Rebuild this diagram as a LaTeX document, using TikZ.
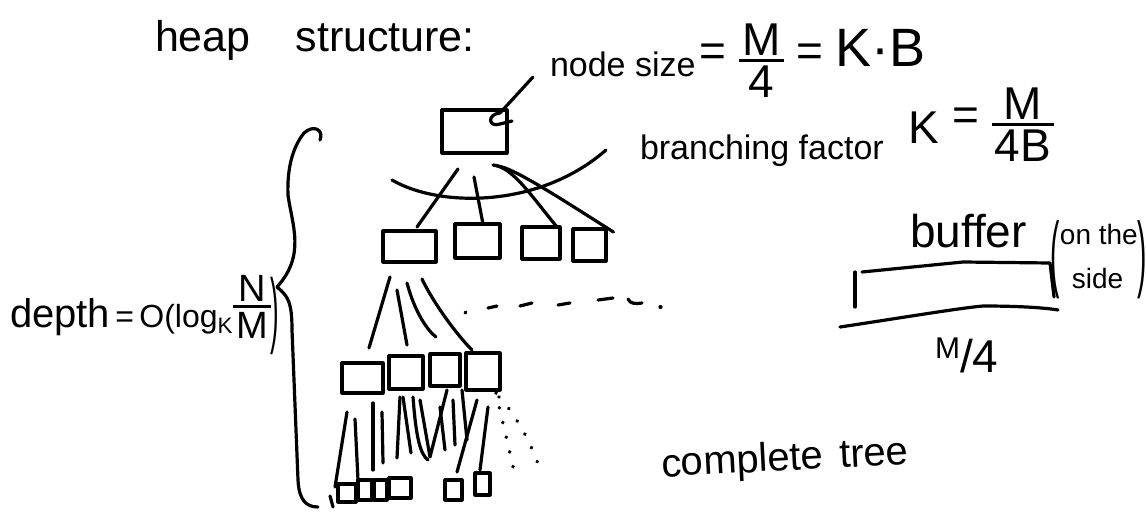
\documentclass[tikz,border=0pt]{standalone}
\usepackage{fontspec}
\usepackage{graphicx}
\setmainfont{Liberation Sans}
\usetikzlibrary{calc}
\newcommand\hfr[2]{$\vcenter{\offinterlineskip\halign{\hfil\kern3pt##\kern3pt\hfil\cr#1\cr\noalign{\kern4pt\hrule height 2.6pt\kern4pt}#2\cr}}$}
\tikzset{
  pen/.style={line width=3.2pt, line cap=round, line join=round},
  bx/.style={draw, pen, inner sep=0pt, outer sep=0pt},
  txt/.style={inner sep=0pt, outer sep=0pt, anchor=base west},
  dots/.style={line width=3.8pt, line cap=round, dash pattern=on 0.1pt off 15pt},
}
\begin{document}
\begin{tikzpicture}[x=1pt,y=-1pt,pen]
\fill[white] (0,0) rectangle (1146,524);
\useasboundingbox (0,0) rectangle (1146,524);

% ---- texts
\node[txt, font=\fontsize{43}{50}\selectfont] (title) at (155,52) {heap\hspace{45pt}structure:};
\node[txt, font=\fontsize{34}{40}\selectfont] (ns) at (550,77) {node size\hspace{4pt}\raisebox{10pt}{{\fontsize{46}{50}\selectfont = \hfr{M}{4} = {\fontsize{54}{60}\selectfont K·B}}}};
\node[txt, font=\fontsize{34}{40}\selectfont] (bf) at (640,160) {branching factor\hspace{25pt}\raisebox{17pt}{\fontsize{46}{50}\selectfont K \raisebox{12pt}{= \hfr{M}{4B}}}};
\node[txt, font=\fontsize{40}{48}\selectfont] (dp) at (10,327) {depth{\fontsize{32}{40}\selectfont\,=\,O(log\textsubscript{K}\raisebox{14pt}{{\fontsize{38}{40}\selectfont\hfr{N}{M}}}\raisebox{-10pt}{\scalebox{0.8}[2.6]{)}}}};
\node[txt, font=\fontsize{46}{50}\selectfont] (buftxt) at (910,247) {buffer};
\node[anchor=west, inner sep=0pt, font=\fontsize{28}{44}\selectfont] (side) at (1049,258) {\raisebox{-17pt}{\scalebox{1}[3]{(}}\begin{tabular}{@{}l@{}}on the\\\hspace{12pt}side\end{tabular}\raisebox{-17pt}{\scalebox{1}[3]{)}}};
\node[txt, font=\fontsize{46}{50}\selectfont] (m4) at (935,372) {{\fontsize{30}{34}\selectfont\raisebox{14pt}{M}}/4};
\node[txt, font=\fontsize{40}{44}\selectfont, rotate=3] (ct) at (662,477) {complete\hspace{16pt}tree};

% ---- tree nodes
\node[bx, minimum width=65pt, minimum height=43pt] (r) at (474.5,131.5) {};
\node[bx, minimum width=53pt, minimum height=31pt] (b1) at (409.5,246.5) {};
\node[bx, minimum width=45pt, minimum height=34pt] (b2) at (477.5,241) {};
\node[bx, minimum width=38pt, minimum height=32pt] (b3) at (541,243) {};
\node[bx, minimum width=33pt, minimum height=32pt] (b4) at (589.5,245) {};
\node[bx, minimum width=41pt, minimum height=30pt] (a) at (362.5,378) {};
\node[bx, minimum width=34pt, minimum height=33pt] (b) at (406,372.5) {};
\node[bx, minimum width=30pt, minimum height=32pt] (c) at (445,370) {};
\node[bx, minimum width=34pt, minimum height=37pt] (d) at (483,371.5) {};
\node[bx, minimum width=18pt, minimum height=18pt] (f1) at (347,493) {};
\node[bx, minimum width=14pt, minimum height=20pt] (f2) at (365,490) {};
\node[bx, minimum width=13pt, minimum height=20pt] (f3) at (380.5,490) {};
\node[bx, minimum width=22pt, minimum height=20pt] (f4) at (400,488) {};
\node[bx, minimum width=17pt, minimum height=20pt] (f5) at (453.5,490) {};
\node[bx, minimum width=15pt, minimum height=22pt] (f6) at (482.5,484) {};
\coordinate (ptr) at (533,77);
\coordinate (dA) at (515,475);
\coordinate (dB) at (541,473);

% ---- pointer and mark on root
\draw ($(r.north east)+(-7,3)$) -- (ptr);
\draw (500,113) .. controls (487,114) and (488,128) .. (500,124) -- (512,121);

% ---- separator arc
\draw (392,180) .. controls (440,208) and (540,208) .. (606,150);

% ---- root to level 1
\draw ($(r.south)+(-16.5,16)$) -- ($(b1.north)+(7.5,-4)$);
\draw ($(r.south)+(-0.5,24)$) -- ($(b2.north)+(5.5,0)$);
\draw ($(r.south)+(18.5,12)$) .. controls +(20,2) and +(-25,-30) .. ($(b3.north)+(16,0)$);
\draw ($(r.south)+(22.5,13)$) .. controls +(15,0) and +(-40,-25) .. ($(b4.north east)+(7.5,3)$);

% ---- level 1 to level 2
\draw ($(b1.south)+(-19.5,15)$) -- ($(a.north)+(6.5,-15)$);
\draw ($(b1.south)+(-12.5,28)$) -- ($(b.north)+(1,-11)$);
\draw ($(b1.south)+(-2.5,21)$) .. controls +(8,30) and +(-8,-6) .. ($(c.north)+(-9,-17)$);
\draw ($(b1.south)+(12.5,17)$) .. controls +(12,25) and +(-15,-15) .. ($(d.north)+(-11,-3)$);

% ---- level 2 to leaves
\draw ($(a.south)+(-15.5,19)$) -- ($(f1.west)+(-3,-6)$);
\draw ($(a.south)+(-7.5,26)$) -- ($(f2.north)+(-7,0)$);
\draw ($(a.south)+(10.5,10)$) -- ($(f3.north)+(-7.5,-10)$);
\draw ($(a.south)+(19.5,19)$) -- ($(f3.north)+(2.5,-17)$);
\draw ($(b.south)+(-6,8)$) -- ($(f4.north)+(-3,-20)$);
\draw ($(b.south)+(-3,8)$) -- ($(f4.north)+(11,-25)$);
\draw ($(b.south)+(7,8)$) .. controls +(3,40) and +(-8,-6) .. ($(f4.north east)+(17,-18)$);
\draw ($(b.south)+(14,11)$) -- ($(f5.north west)+(-15,-23)$) -- ($(c.south)+(2,4)$);
\draw ($(c.south)+(-5,21)$) -- ($(f5.north west)+(0,-30)$);
\draw ($(c.south)+(8,14)$) -- ($(f5.north)+(1.5,-35)$);
\draw ($(c.south)+(17,4)$) -- ($(f5.north east)+(5,-40)$);
\draw ($(d.south)+(-6,10)$) -- ($(f5.north)+(3.5,-8)$);
\draw ($(d.south)+(5,17)$) -- ($(f6.north)+(-2.5,-3)$);
\draw (330,496) -- (333,507);

% ---- dotted continuation
\draw[dots] ($(d.south east)+(-4,3)$) -- (dA);
\draw[dots] ($(d.south east)+(-1,7)$) .. controls +(18,18) and +(-6,-22) .. (dB);

% ---- dashes between levels
\draw (465,313) -- (466,312);
\draw (488,308) -- (497,306);
\draw (520,306) -- (532,303);
\draw (558,305) -- (570,303);
\draw (598,300) -- (613,298);
\draw (628,299) .. controls (630,304) and (636,304) .. (642,303);
\draw (660,307) -- (661,307);

% ---- brace
\draw (320,140) .. controls (324,130) and (314,124) .. (304,133) .. controls (292,148) and (287,170) .. (288,195) .. controls (292,225) and (306,255) .. (277,287);
\draw (277,287) .. controls (288,296) and (292,302) .. (292,330) -- (298,480) .. controls (299,500) and (306,507) .. (318,507);

% ---- buffer
\draw (855,272) -- (855,307);
\draw (862,272) -- (963,262) -- (1050,263) -- (1054,297);
\draw (840,327) .. controls (900,318) and (960,308) .. (983,306) .. controls (1010,306) and (1040,307) .. (1058,310);
\end{tikzpicture}
\end{document}
